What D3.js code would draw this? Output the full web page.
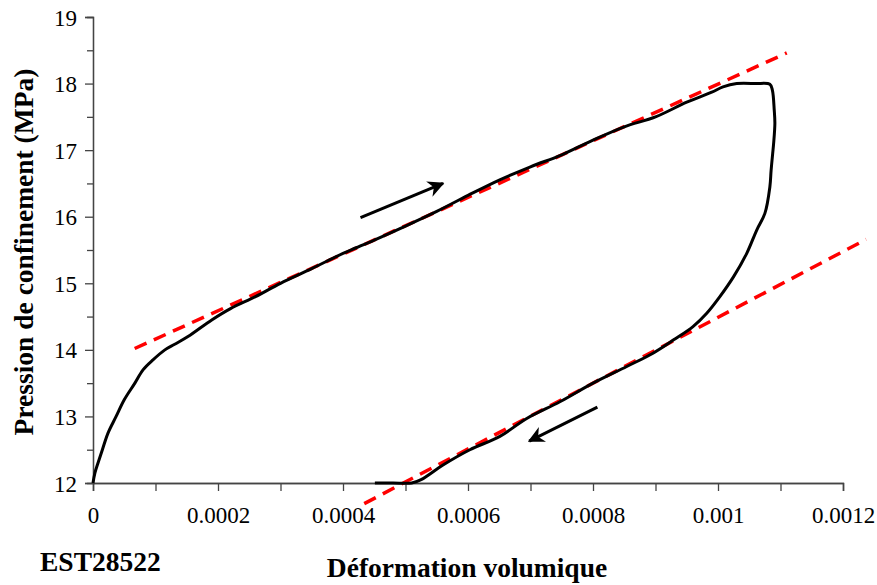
<!DOCTYPE html>
<html><head><meta charset="utf-8">
<script src="https://cdn.jsdelivr.net/npm/d3@7"></script>
<style>body{margin:0;background:#fff;} svg{display:block;}</style>
</head><body>
<svg id="chart" width="877" height="585"></svg>
<script>
// Measured curve: volumetric strain vs confining pressure (loading then unloading)
const strainValues = [0, 0.000003, 0.000008, 0.000015, 0.000024, 0.000037, 0.00005, 0.000067, 0.00008, 0.000096, 0.000115, 0.00013, 0.000152, 0.00019, 0.00022, 0.00026, 0.0003, 0.00035, 0.0004, 0.00042, 0.00045, 0.0005, 0.00055, 0.0006, 0.00065, 0.0007, 0.00075, 0.0008, 0.00085, 0.0009, 0.00095, 0.00099, 0.001008, 0.00103, 0.00106, 0.001083, 0.001087, 0.00109, 0.001091, 0.001089, 0.0010875, 0.001085, 0.001083, 0.001075, 0.001062, 0.001046, 0.001025, 0.001003, 0.000982, 0.00096, 0.000929, 0.000896, 0.000854, 0.0008, 0.000747, 0.000694, 0.000651, 0.000603, 0.00056, 0.000525, 0.00051, 0.00048, 0.000451];
const pressureValues = [12.0, 12.15, 12.3, 12.5, 12.75, 13.0, 13.25, 13.5, 13.7, 13.85, 14.0, 14.08, 14.2, 14.45, 14.62, 14.8, 15.0, 15.22, 15.45, 15.53, 15.65, 15.86, 16.08, 16.32, 16.55, 16.75, 16.93, 17.15, 17.35, 17.5, 17.72, 17.87, 17.95, 18.0, 18.0, 17.99, 17.9, 17.6, 17.4, 17.1, 16.95, 16.7, 16.45, 16.05, 15.8, 15.45, 15.1, 14.8, 14.55, 14.35, 14.15, 13.95, 13.75, 13.5, 13.22, 12.97, 12.7, 12.5, 12.27, 12.05, 12.0, 12.0, 12.0];

// Red dashed fitted lines (endpoints)
const loadFitStrain = [0.0000667, 0.00111];
const loadFitPressure = [14.02, 18.46];
const unloadFitStrain = [0.000434, 0.001237];
const unloadFitPressure = [11.69, 15.66];

// Direction arrows [tail, tip]
const arrowStrain = [[0.000428, 0.00056], [0.000807, 0.000698]];
const arrowPressure = [[15.985, 16.5], [13.14, 12.63]];

const xTickValues = [0, 0.0002, 0.0004, 0.0006, 0.0008, 0.001, 0.0012];
const xTickLabels = ["0", "0.0002", "0.0004", "0.0006", "0.0008", "0.001", "0.0012"];
const xMinorTicks = [0.0001, 0.0003, 0.0005, 0.0007, 0.0009, 0.0011];
const yTickValues = [12, 13, 14, 15, 16, 17, 18, 19];
const yMinorTicks = [12.5, 13.5, 14.5, 15.5, 16.5, 17.5, 18.5];

const xLabel = "Déformation volumique";
const yLabel = "Pression de confinement (MPa)";
const sampleLabel = "EST28522";

const svg = d3.select("#chart");
const x = d3.scaleLinear().domain([0, 0.0012]).range([93, 843]);
const y = d3.scaleLinear().domain([12, 19]).range([483, 17]);
const font = "'Liberation Serif', 'Times New Roman', serif";
const axisColor = "#444";

// Minor ticks
const gx = svg.append("g").attr("transform", `translate(0,${y(12)})`);
gx.call(d3.axisBottom(x).tickValues(xMinorTicks).tickSize(8).tickFormat(""));
const gy = svg.append("g").attr("transform", `translate(${x(0)},0)`);
gy.call(d3.axisLeft(y).tickValues(yMinorTicks).tickSize(6).tickFormat(""));
// Major ticks
const gx2 = svg.append("g").attr("transform", `translate(0,${y(12)})`);
gx2.call(d3.axisBottom(x).tickValues(xTickValues).tickSize(8).tickPadding(16)
  .tickFormat((d, i) => xTickLabels[i]));
const gy2 = svg.append("g").attr("transform", `translate(${x(0)},0)`);
gy2.call(d3.axisLeft(y).tickValues(yTickValues).tickSize(8).tickPadding(8).tickFormat(d3.format("d")));

[gx, gy, gx2, gy2].forEach(g => {
  g.selectAll("path.domain").attr("stroke", axisColor).attr("stroke-width", 1.3);
  g.selectAll(".tick line").attr("stroke", axisColor).attr("stroke-width", 1.3);
  g.selectAll(".tick text").attr("fill", "#000").style("font-family", font).style("font-size", "23px");
});
gx2.selectAll(".tick text").attr("dy", "0.71em");
gy2.selectAll(".tick text").attr("dy", "0.35em");

// Dashed red fit lines
const line = d3.line().x(d => x(d[0])).y(d => y(d[1]));
[[loadFitStrain, loadFitPressure], [unloadFitStrain, unloadFitPressure]].forEach(([s, p]) => {
  svg.append("path")
    .attr("d", line(s.map((v, i) => [v, p[i]])))
    .attr("fill", "none").attr("stroke", "#ff0000").attr("stroke-width", 3.5)
    .attr("stroke-dasharray", "13,8");
});

// Measured curve
const smooth = d3.line().x(d => x(d[0])).y(d => y(d[1])).curve(d3.curveCatmullRom.alpha(0.5));
svg.append("path")
  .attr("d", smooth(strainValues.map((v, i) => [v, pressureValues[i]])))
  .attr("fill", "none").attr("stroke", "#000").attr("stroke-width", 3)
  .attr("stroke-linejoin", "round");

// Arrows
svg.append("defs").append("marker")
  .attr("id", "ah").attr("viewBox", "0 0 10 10").attr("refX", 9).attr("refY", 5)
  .attr("markerWidth", 5.5).attr("markerHeight", 5.5).attr("markerUnits", "strokeWidth")
  .attr("orient", "auto")
  .append("path").attr("d", "M0,0 L10,5 L0,10 L3,5 Z").attr("fill", "#000");
arrowStrain.forEach((s, i) => {
  svg.append("path")
    .attr("d", line(s.map((v, j) => [v, arrowPressure[i][j]])))
    .attr("stroke", "#000").attr("stroke-width", 3).attr("fill", "none")
    .attr("marker-end", "url(#ah)");
});

// Labels
svg.append("text").attr("x", 467).attr("y", 577).attr("text-anchor", "middle")
  .style("font-family", font).style("font-weight", "bold").style("font-size", "27.5px")
  .text(xLabel);
svg.append("text").attr("x", 40).attr("y", 571)
  .style("font-family", font).style("font-weight", "bold").style("font-size", "27.5px")
  .text(sampleLabel);
svg.append("text").attr("transform", "translate(33,252) rotate(-90)").attr("text-anchor", "middle")
  .style("font-family", font).style("font-weight", "bold").style("font-size", "27.5px")
  .text(yLabel);
</script>
</body></html>
